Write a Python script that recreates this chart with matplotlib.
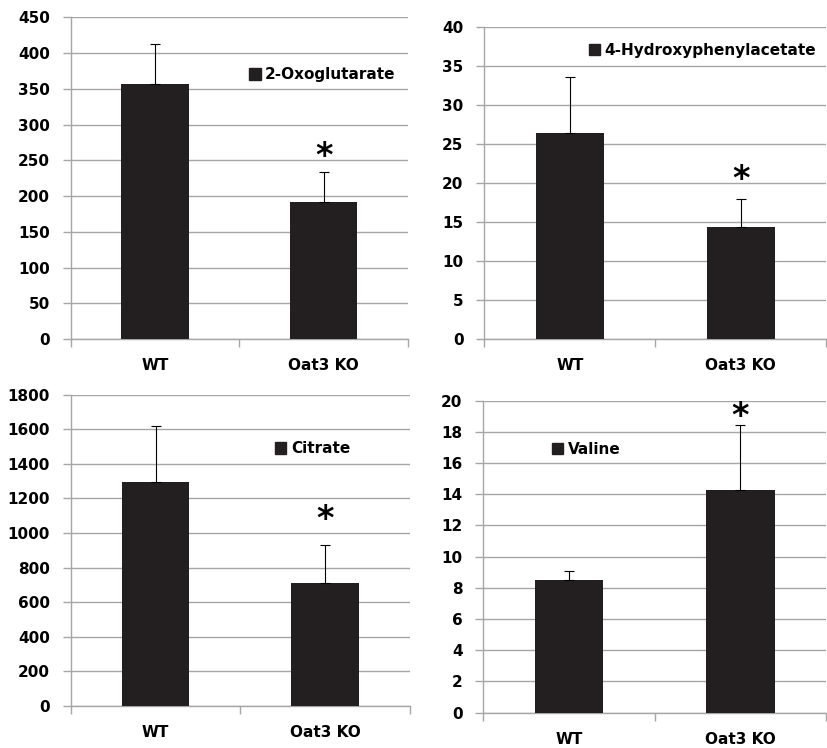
import matplotlib
matplotlib.use("Agg")
import matplotlib.pyplot as plt
from matplotlib.patches import Patch

plt.rcParams['font.family'] = ['DejaVu Sans']
plt.rcParams['font.weight'] = 'bold'

groups = ["WT", "Oat3 KO"]

names = ["2-Oxoglutarate", "4-Hydroxyphenylacetate", "Citrate", "Valine"]
means = [[357, 191], [26.4, 14.4], [1295, 713], [8.5, 14.3]]
errs = [[56, 42], [7.1, 3.5], [327, 220], [0.58, 4.15]]
ymax = [450, 40, 1800, 20]
ystep = [50, 5, 200, 2]
star_y = [255, 20.4, 1077, 19.0]

# axes boxes in figure fraction, legend anchor in axes fraction
boxes = [[0.0855, 0.5468, 0.4078, 0.4301],
         [0.5856, 0.5468, 0.4135, 0.4175],
         [0.0855, 0.0561, 0.4103, 0.4162],
         [0.5844, 0.0472, 0.4146, 0.4171]]
leg_pos = [(0.529, 0.821), (0.305, 0.925), (0.602, 0.826), (0.199, 0.845)]

bar_color = "#231f20"
grid_color = "#a6a6a6"


def main():
    fig = plt.figure(figsize=(8.27, 7.48), dpi=100)
    for i in range(4):
        ax = fig.add_axes(boxes[i])
        x = range(len(groups))
        ax.bar(x, means[i], width=0.4, color=bar_color, zorder=3)
        ax.errorbar(x, means[i], yerr=[[0, 0], errs[i]], fmt="none",
                    ecolor="black", elinewidth=0.8, capsize=3.5, capthick=0.8, zorder=4)
        ax.text(1, star_y[i], "*", ha="center", va="center",
                fontsize=24, fontweight="bold", zorder=5)

        ax.set_xlim(-0.5, 1.5)
        ax.set_ylim(0, ymax[i])
        ax.set_yticks([ystep[i] * k for k in range(int(round(ymax[i] / ystep[i])) + 1)])
        ax.set_xticks([0, 1])
        ax.set_xticklabels(groups)
        ax.set_xticks([-0.5, 0.5, 1.5], minor=True)
        ax.tick_params(axis="x", which="major", length=0, pad=14, labelsize=11)
        ax.tick_params(axis="x", which="minor", length=6, color=grid_color, width=1)
        ax.tick_params(axis="y", length=6, color=grid_color, width=1, pad=9, labelsize=11)
        for lab in ax.get_xticklabels() + ax.get_yticklabels():
            lab.set_fontweight("bold")

        ax.grid(axis="y", color=grid_color, linewidth=1, zorder=0)
        for s in ["top", "right"]:
            ax.spines[s].set_visible(False)
        for s in ["left", "bottom"]:
            ax.spines[s].set_color(grid_color)
            ax.spines[s].set_linewidth(1)

        handle = Patch(facecolor=bar_color, edgecolor=bar_color)
        ax.legend(handles=[handle], labels=[names[i]], loc="center left",
                  bbox_to_anchor=leg_pos[i], frameon=False, borderpad=0,
                  borderaxespad=0, handlelength=0.75, handleheight=0.75,
                  handletextpad=0.3, prop={"weight": "bold", "size": 11})

    plt.savefig("out.png", dpi=100)


if __name__ == "__main__":
    main()
